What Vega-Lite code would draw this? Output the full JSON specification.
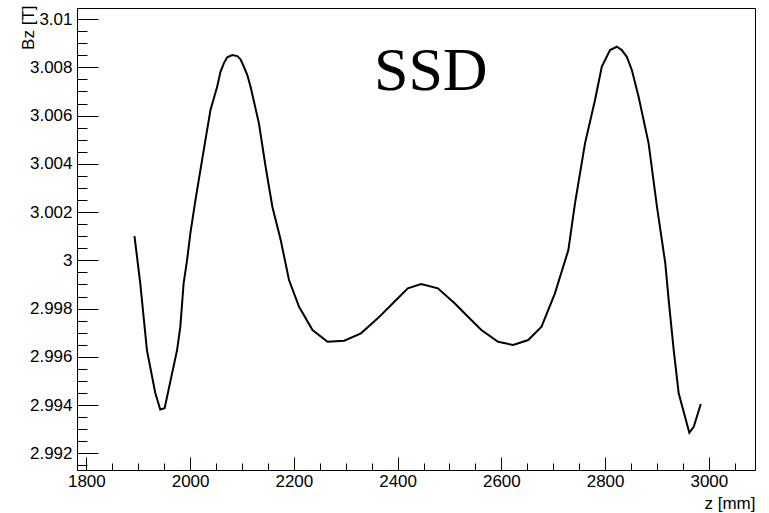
{
  "$schema": "https://vega.github.io/schema/vega-lite/v6.json",
  "width": 678,
  "height": 462,
  "autosize": {"type": "none"},
  "padding": {"left": 77, "top": 8, "right": 14, "bottom": 43},
  "background": "white",
  "config": {
    "view": {"stroke": "#000", "strokeWidth": 1},
    "axis": {
      "domainColor": "#000",
      "tickColor": "#000",
      "labelColor": "#000",
      "titleColor": "#000",
      "labelFont": "Liberation Sans",
      "titleFont": "Liberation Sans",
      "labelFontSize": 17,
      "titleFontSize": 17,
      "labelFontWeight": "normal",
      "titleFontWeight": "normal",
      "grid": false
    }
  },
  "resolve": {"axis": {"x": "independent", "y": "independent"}},
  "layer": [
    {
      "data": {"values": [
        {"z": 1892.8, "B": 3.001007},
        {"z": 1903.9, "B": 2.99906},
        {"z": 1916.8, "B": 2.99628},
        {"z": 1932.9, "B": 2.9945},
        {"z": 1942.5, "B": 2.99382},
        {"z": 1950.9, "B": 2.99387},
        {"z": 1974.9, "B": 2.99628},
        {"z": 1981.2, "B": 2.99725},
        {"z": 1987.6, "B": 2.99906},
        {"z": 1994.2, "B": 3.00001},
        {"z": 2000.6, "B": 3.001131},
        {"z": 2010.3, "B": 3.002499},
        {"z": 2026.3, "B": 3.004571},
        {"z": 2039.3, "B": 3.006229},
        {"z": 2052.2, "B": 3.007195},
        {"z": 2058.6, "B": 3.007817},
        {"z": 2065.0, "B": 3.008165},
        {"z": 2071.6, "B": 3.008414},
        {"z": 2081.2, "B": 3.008509},
        {"z": 2090.9, "B": 3.008467},
        {"z": 2097.3, "B": 3.008331},
        {"z": 2103.7, "B": 3.008024},
        {"z": 2110.3, "B": 3.00768},
        {"z": 2116.6, "B": 3.007195},
        {"z": 2132.7, "B": 3.005678},
        {"z": 2145.6, "B": 3.003879},
        {"z": 2158.6, "B": 3.002222},
        {"z": 2174.7, "B": 3.000841},
        {"z": 2190.7, "B": 2.999184},
        {"z": 2210.1, "B": 2.998077},
        {"z": 2236.0, "B": 2.997111},
        {"z": 2265.0, "B": 2.996626},
        {"z": 2297.1, "B": 2.996668},
        {"z": 2329.4, "B": 2.996974},
        {"z": 2361.7, "B": 2.997596},
        {"z": 2393.8, "B": 2.998284},
        {"z": 2419.7, "B": 2.998839},
        {"z": 2445.4, "B": 2.999018},
        {"z": 2477.7, "B": 2.998839},
        {"z": 2509.9, "B": 2.998218},
        {"z": 2535.8, "B": 2.997662},
        {"z": 2561.5, "B": 2.997111},
        {"z": 2593.8, "B": 2.996626},
        {"z": 2622.8, "B": 2.99649},
        {"z": 2651.8, "B": 2.996697},
        {"z": 2677.5, "B": 2.997248},
        {"z": 2703.3, "B": 2.998632},
        {"z": 2729.2, "B": 3.000427},
        {"z": 2742.0, "B": 3.002362},
        {"z": 2761.3, "B": 3.004849},
        {"z": 2780.6, "B": 3.006644},
        {"z": 2793.6, "B": 3.008024},
        {"z": 2800.0, "B": 3.008302},
        {"z": 2809.6, "B": 3.008716},
        {"z": 2822.6, "B": 3.008853},
        {"z": 2832.2, "B": 3.008716},
        {"z": 2841.9, "B": 3.008438},
        {"z": 2851.6, "B": 3.007887},
        {"z": 2864.6, "B": 3.006781},
        {"z": 2883.9, "B": 3.004849},
        {"z": 2900.0, "B": 3.002222},
        {"z": 2916.1, "B": 2.999876},
        {"z": 2922.6, "B": 2.998355},
        {"z": 2932.3, "B": 2.996282},
        {"z": 2941.9, "B": 2.994488},
        {"z": 2962.4, "B": 2.992855},
        {"z": 2970.9, "B": 2.993103},
        {"z": 2984.5, "B": 2.994044}
      ]},
      "mark": {"type": "line", "color": "#000", "strokeWidth": 2, "clip": true},
      "encoding": {
        "x": {
          "field": "z", "type": "quantitative",
          "scale": {"domain": [1782, 3089], "nice": false, "zero": false},
          "axis": {
            "orient": "bottom",
            "values": [1800, 2000, 2200, 2400, 2600, 2800, 3000],
            "format": "d",
            "tickSize": -13,
            "labelPadding": 16,
            "labelBaseline": "top",
            "title": "z [mm]",
            "titleAnchor": "end",
            "titleAlign": "right",
            "titleBaseline": "alphabetic",
            "titleY": 38,
            "titleX": 678
          }
        },
        "y": {
          "field": "B", "type": "quantitative",
          "scale": {"domain": [2.99131, 3.01046], "nice": false, "zero": false},
          "axis": {
            "orient": "left",
            "values": [2.992, 2.994, 2.996, 2.998, 3.0, 3.002, 3.004, 3.006, 3.008, 3.01],
            "format": ".3~f",
            "tickSize": -21,
            "labelPadding": 26,
            "labelBaseline": "middle",
            "title": "Bz [T]",
            "titleAngle": -90,
            "titleAlign": "right",
            "titleBaseline": "alphabetic",
            "titleX": -44,
            "titleY": -3
          }
        }
      }
    },
    {
      "data": {"values": [{"z": 2464, "B": 3.00706, "label": "SSD"}]},
      "mark": {"type": "text", "font": "Liberation Serif", "fontSize": 62, "align": "center", "baseline": "alphabetic", "color": "#000"},
      "encoding": {
        "x": {
          "field": "z", "type": "quantitative",
          "scale": {"domain": [1782, 3089], "nice": false, "zero": false},
          "axis": {
            "orient": "bottom",
            "values": [1800, 1850, 1900, 1950, 2000, 2050, 2100, 2150, 2200, 2250, 2300, 2350, 2400, 2450, 2500, 2550, 2600, 2650, 2700, 2750, 2800, 2850, 2900, 2950, 3000, 3050],
            "tickSize": -7,
            "labels": false,
            "domain": false,
            "title": null
          }
        },
        "y": {
          "field": "B", "type": "quantitative",
          "scale": {"domain": [2.99131, 3.01046], "nice": false, "zero": false},
          "axis": {
            "orient": "left",
            "values": [2.9915, 2.992, 2.9925, 2.993, 2.9935, 2.994, 2.9945, 2.995, 2.9955, 2.996, 2.9965, 2.997, 2.9975, 2.998, 2.9985, 2.999, 2.9995, 3.0, 3.0005, 3.001, 3.0015, 3.002, 3.0025, 3.003, 3.0035, 3.004, 3.0045, 3.005, 3.0055, 3.006, 3.0065, 3.007, 3.0075, 3.008, 3.0085, 3.009, 3.0095, 3.01],
            "tickSize": -10,
            "labels": false,
            "domain": false,
            "title": null
          }
        },
        "text": {"field": "label"}
      }
    }
  ]
}
